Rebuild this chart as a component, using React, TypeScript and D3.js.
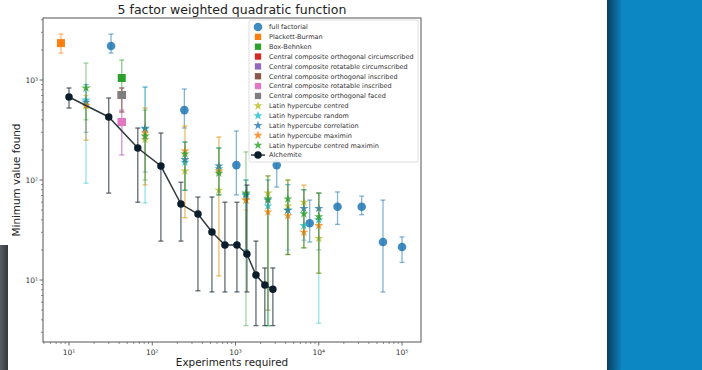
import * as d3 from 'd3';
import React, { useEffect, useRef } from 'react';

// full factorial designs
const ffX = [32, 243, 1024, 3125, 7776, 16807, 32768, 59049, 100000];
const ffY = [2190, 500, 141, 141, 37, 54, 54, 24, 21.4];
const ffLo = [1860, 331, 71, 85, 24, 36, 45, 7.6, 15];
const ffHi = [2880, 813, 309, 158, 63, 76, 69, 63, 27];

// single-size designs
const pbX = [8];
const pbY = [2340];
const pbLo = [1860];
const pbHi = [2880];
const bbX = [43];
const bbY = [1047];
const bbLo = [700];
const bbHi = [1585];
const ccX = [43];
const ccocY = [708];
const ccrcY = [380];
const ccoiY = [708];
const ccriY = [380];
const ccofY = [708];
const ccoLo = [479];
const ccoHi = [832];
const ccrLo = [178];
const ccrHi = [500];

// latin hypercube runs
const lhcX = [16, 82, 247, 631, 1335, 2450, 4250, 6620, 10000];
const lhcCentredY = [550, 255, 123, 79, 63, 74, 55, 60, 26];
const lhcCentredLo = [250, 90, 42, 11, 20, 3.5, 18, 21, 11.7];
const lhcCentredHi = [700, 525, 347, 269, 100, 110, 100, 89, 74];
const lhcRandomY = [630, 324, 151, 130, 70, 55, 50, 35, 40];
const lhcRandomLo = [93, 59, 79, 71, 20, 3.5, 20, 21, 3.7];
const lhcRandomHi = [900, 850, 240, 209, 100, 100, 90, 80, 74];
const lhcCorrY = [600, 330, 160, 138, 72, 63, 50, 52, 52];
const lhcCorrLo = [300, 120, 79, 71, 20, 5, 18, 25, 20];
const lhcCorrHi = [900, 850, 240, 209, 100, 100, 90, 80, 74];
const lhcMaximinY = [560, 295, 195, 123, 63, 48, 44, 30, 35];
const lhcMaximinLo = [250, 89, 42, 11, 18, 5, 18, 21, 11.7];
const lhcMaximinHi = [700, 525, 347, 269, 50, 110, 100, 89, 74];
const lhcCmY = [830, 275, 182, 117, 74, 65, 64.6, 46, 43];
const lhcCmLo = [400, 100, 79, 71, 3.5, 3.5, 18, 21, 11.7];
const lhcCmHi = [1480, 500, 240, 209, 191, 110, 100, 80, 74];

// Alchemite
const alX = [10, 30, 67, 127, 221, 354, 521, 746, 1040, 1370, 1760, 2250, 2810];
const alY = [676, 427, 209, 138, 57.5, 45.7, 30.2, 22.4, 22.4, 18.2, 11.2, 8.9, 8.1];
const alLo = [525, 74, 60, 24.5, 24.5, 7.8, 7.6, 7.6, 7.6, 7.6, 3.5, 3.5, 3.5];
const alHi = [832, 661, 331, 295, 95, 67.6, 67.6, 60, 60, 89, 24.5, 13.2, 13.2];

const xTicks = [10, 100, 1000, 10000, 100000];
const xTickLabels = ['10¹', '10²', '10³', '10⁴', '10⁵'];
const yTicks = [10, 100, 1000];
const yTickLabels = ['10¹', '10²', '10³'];

interface Series {
  name: string;
  color: string;
  shape: 'circle' | 'square' | 'star' | 'line';
  x: number[];
  y: number[];
  lo: number[];
  hi: number[];
  barColor?: string;
  barAlpha: number;
}

const series: Series[] = [
  { name: 'full factorial', color: '#1f77b4', shape: 'circle', x: ffX, y: ffY, lo: ffLo, hi: ffHi, barAlpha: 0.55 },
  { name: 'Plackett-Burman', color: '#ff7f0e', shape: 'square', x: pbX, y: pbY, lo: pbLo, hi: pbHi, barAlpha: 0.55 },
  { name: 'Box-Behnken', color: '#2ca02c', shape: 'square', x: bbX, y: bbY, lo: bbLo, hi: bbHi, barAlpha: 0.55 },
  { name: 'Central composite orthogonal circumscribed', color: '#d62728', shape: 'square', x: ccX, y: ccocY, lo: ccoLo, hi: ccoHi, barAlpha: 0.45 },
  { name: 'Central composite rotatable circumscribed', color: '#9467bd', shape: 'square', x: ccX, y: ccrcY, lo: ccrLo, hi: ccrHi, barAlpha: 0.45 },
  { name: 'Central composite orthogonal inscribed', color: '#8c564b', shape: 'square', x: ccX, y: ccoiY, lo: ccoLo, hi: ccoHi, barAlpha: 0.45 },
  { name: 'Central composite rotatable inscribed', color: '#e377c2', shape: 'square', x: ccX, y: ccriY, lo: ccrLo, hi: ccrHi, barAlpha: 0.45 },
  { name: 'Central composite orthogonal faced', color: '#7f7f7f', shape: 'square', x: ccX, y: ccofY, lo: ccoLo, hi: ccoHi, barAlpha: 0.45 },
  { name: 'Latin hypercube centred', color: '#bcbd22', shape: 'star', x: lhcX, y: lhcCentredY, lo: lhcCentredLo, hi: lhcCentredHi, barAlpha: 0.4 },
  { name: 'Latin hypercube random', color: '#17becf', shape: 'star', x: lhcX, y: lhcRandomY, lo: lhcRandomLo, hi: lhcRandomHi, barAlpha: 0.45 },
  { name: 'Latin hypercube correlation', color: '#1f77b4', shape: 'star', x: lhcX, y: lhcCorrY, lo: lhcCorrLo, hi: lhcCorrHi, barAlpha: 0.4 },
  { name: 'Latin hypercube maximin', color: '#ff7f0e', shape: 'star', x: lhcX, y: lhcMaximinY, lo: lhcMaximinLo, hi: lhcMaximinHi, barAlpha: 0.35 },
  { name: 'Latin hypercube centred maximin', color: '#2ca02c', shape: 'star', x: lhcX, y: lhcCmY, lo: lhcCmLo, hi: lhcCmHi, barAlpha: 0.45 },
  { name: 'Alchemite', color: '#0b1c2a', shape: 'line', x: alX, y: alY, lo: alLo, hi: alHi, barColor: '#2c3a44', barAlpha: 0.75 },
];

const W = 702;
const H = 370;
const plot = { left: 43, right: 421, top: 18, bottom: 342 };
const font = '"DejaVu Sans", sans-serif';

const symbolFor = (shape: Series['shape']) => {
  if (shape === 'square') return d3.symbol(d3.symbolSquare, 64);
  if (shape === 'star') return d3.symbol(d3.symbolStar, 26);
  if (shape === 'line') return d3.symbol(d3.symbolCircle, 44);
  return d3.symbol(d3.symbolCircle, 58);
};
const opacityFor = (shape: Series['shape']) => (shape === 'star' ? 0.8 : shape === 'circle' ? 0.85 : 1);

const App: React.FC = () => {
  const ref = useRef<SVGSVGElement>(null);

  useEffect(() => {
    if (!ref.current) return;
    const svg = d3.select(ref.current);
    svg.selectAll('*').remove();

    const x = d3.scaleLog().domain([4.87, 169000]).range([plot.left, plot.right]);
    const y = d3.scaleLog().domain([2.4, 4170]).range([plot.bottom, plot.top]);

    const defs = svg.append('defs');
    const gl = defs.append('linearGradient').attr('id', 'leftg').attr('x1', 0).attr('x2', 1);
    gl.append('stop').attr('offset', 0).attr('stop-color', '#5a5f63');
    gl.append('stop').attr('offset', 1).attr('stop-color', '#33383c');
    const gr = defs.append('linearGradient').attr('id', 'rightg').attr('x1', 0).attr('x2', 1);
    gr.append('stop').attr('offset', 0).attr('stop-color', '#083e5c');
    gr.append('stop').attr('offset', 1).attr('stop-color', '#0d7fba');

    svg.append('rect').attr('width', W).attr('height', H).attr('fill', '#fff');
    // side decorations from the slide
    svg.append('rect').attr('x', 0).attr('y', 245).attr('width', 8).attr('height', H - 245).attr('fill', 'url(#leftg)');
    svg.append('rect').attr('x', 607).attr('y', 0).attr('width', 14).attr('height', H).attr('fill', 'url(#rightg)');
    svg.append('rect').attr('x', 621).attr('y', 0).attr('width', W - 621).attr('height', H).attr('fill', '#0d87c4');

    // axes
    const xMinor = x.ticks().filter((t) => !xTicks.includes(t));
    const yMinor = y.ticks().filter((t) => !yTicks.includes(t));
    const axes = svg.append('g').attr('stroke', '#444');
    axes.selectAll('line.xminor').data(xMinor).join('line')
      .attr('x1', (d) => x(d)).attr('x2', (d) => x(d))
      .attr('y1', plot.bottom).attr('y2', plot.bottom + 2).attr('stroke-width', 0.6);
    axes.selectAll('line.xmajor').data(xTicks).join('line')
      .attr('x1', (d) => x(d)).attr('x2', (d) => x(d))
      .attr('y1', plot.bottom).attr('y2', plot.bottom + 3.5).attr('stroke-width', 0.8);
    axes.selectAll('line.yminor').data(yMinor).join('line')
      .attr('y1', (d) => y(d)).attr('y2', (d) => y(d))
      .attr('x1', plot.left).attr('x2', plot.left - 2).attr('stroke-width', 0.6);
    axes.selectAll('line.ymajor').data(yTicks).join('line')
      .attr('y1', (d) => y(d)).attr('y2', (d) => y(d))
      .attr('x1', plot.left).attr('x2', plot.left - 3.5).attr('stroke-width', 0.8);

    svg.append('g').selectAll('text').data(xTicks).join('text')
      .attr('x', (d) => x(d)).attr('y', plot.bottom + 13)
      .attr('text-anchor', 'middle').attr('font-family', font).attr('font-size', 7.5).attr('fill', '#333')
      .text((d, i) => xTickLabels[i]);
    svg.append('g').selectAll('text').data(yTicks).join('text')
      .attr('x', plot.left - 5).attr('y', (d) => y(d) + 2.5)
      .attr('text-anchor', 'end').attr('font-family', font).attr('font-size', 7.5).attr('fill', '#333')
      .text((d, i) => yTickLabels[i]);

    // data
    const dataG = svg.append('g');
    series.forEach((s) => {
      const g = dataG.append('g');
      const bc = s.barColor ?? s.color;
      const idx = d3.range(s.x.length);
      const bars = g.append('g').attr('stroke', bc).attr('stroke-opacity', s.barAlpha).attr('stroke-width', 1.3);
      bars.selectAll('line.v').data(idx).join('line')
        .attr('x1', (i) => x(s.x[i])).attr('x2', (i) => x(s.x[i]))
        .attr('y1', (i) => y(s.lo[i])).attr('y2', (i) => y(s.hi[i]));
      bars.selectAll('line.lo').data(idx).join('line')
        .attr('x1', (i) => x(s.x[i]) - 2.5).attr('x2', (i) => x(s.x[i]) + 2.5)
        .attr('y1', (i) => y(s.lo[i])).attr('y2', (i) => y(s.lo[i]));
      bars.selectAll('line.hi').data(idx).join('line')
        .attr('x1', (i) => x(s.x[i]) - 2.5).attr('x2', (i) => x(s.x[i]) + 2.5)
        .attr('y1', (i) => y(s.hi[i])).attr('y2', (i) => y(s.hi[i]));
      if (s.shape === 'line') {
        const line = d3.line<number>().x((i) => x(s.x[i])).y((i) => y(s.y[i]));
        g.append('path').attr('d', line(idx)).attr('fill', 'none').attr('stroke', '#2f3a40').attr('stroke-width', 1.5);
      }
      const sym = symbolFor(s.shape);
      g.selectAll('path.m').data(idx).join('path')
        .attr('class', 'm')
        .attr('transform', (i) => `translate(${x(s.x[i])},${y(s.y[i])})`)
        .attr('d', sym() as string)
        .attr('fill', s.color)
        .attr('fill-opacity', opacityFor(s.shape));
    });

    // frame
    svg.append('rect')
      .attr('x', plot.left).attr('y', plot.top)
      .attr('width', plot.right - plot.left).attr('height', plot.bottom - plot.top)
      .attr('fill', 'none').attr('stroke', '#555').attr('stroke-width', 1);

    // legend
    const lg = svg.append('g');
    lg.append('rect').attr('x', 249).attr('y', 20).attr('width', 169).attr('height', 142).attr('rx', 2)
      .attr('fill', '#fff').attr('fill-opacity', 0.85).attr('stroke', '#d4d4d4').attr('stroke-width', 0.8);
    series.forEach((s, i) => {
      const ly = 27 + i * 9.85;
      if (s.shape === 'line') {
        lg.append('line').attr('x1', 251).attr('x2', 265).attr('y1', ly).attr('y2', ly)
          .attr('stroke', '#2f3a40').attr('stroke-width', 1.5);
      }
      const sym = s.shape === 'square' ? d3.symbol(d3.symbolSquare, 40) : symbolFor(s.shape);
      lg.append('path').attr('transform', `translate(258,${ly})`).attr('d', sym() as string)
        .attr('fill', s.color).attr('fill-opacity', opacityFor(s.shape));
      lg.append('text').attr('x', 269).attr('y', ly + 2.3)
        .attr('font-family', font).attr('font-size', 6.5).attr('fill', '#333')
        .text(s.name);
    });

    // titles
    svg.append('text').attr('x', (plot.left + plot.right) / 2).attr('y', 14)
      .attr('text-anchor', 'middle').attr('font-family', font).attr('font-size', 12.5).attr('fill', '#222')
      .text('5 factor weighted quadratic function');
    svg.append('text').attr('x', (plot.left + plot.right) / 2).attr('y', 366)
      .attr('text-anchor', 'middle').attr('font-family', font).attr('font-size', 10.4).attr('fill', '#222')
      .text('Experiments required');
    svg.append('text')
      .attr('transform', `translate(20,${(plot.top + plot.bottom) / 2}) rotate(-90)`)
      .attr('text-anchor', 'middle').attr('font-family', font).attr('font-size', 10.4).attr('fill', '#222')
      .text('Minimum value found');
  }, []);

  return (
    <svg
      ref={ref}
      width={W}
      height={H}
      viewBox={`0 0 ${W} ${H}`}
      style={{ position: 'absolute', left: 0, top: 0, display: 'block' }}
    ></svg>
  );
};

export default App;
